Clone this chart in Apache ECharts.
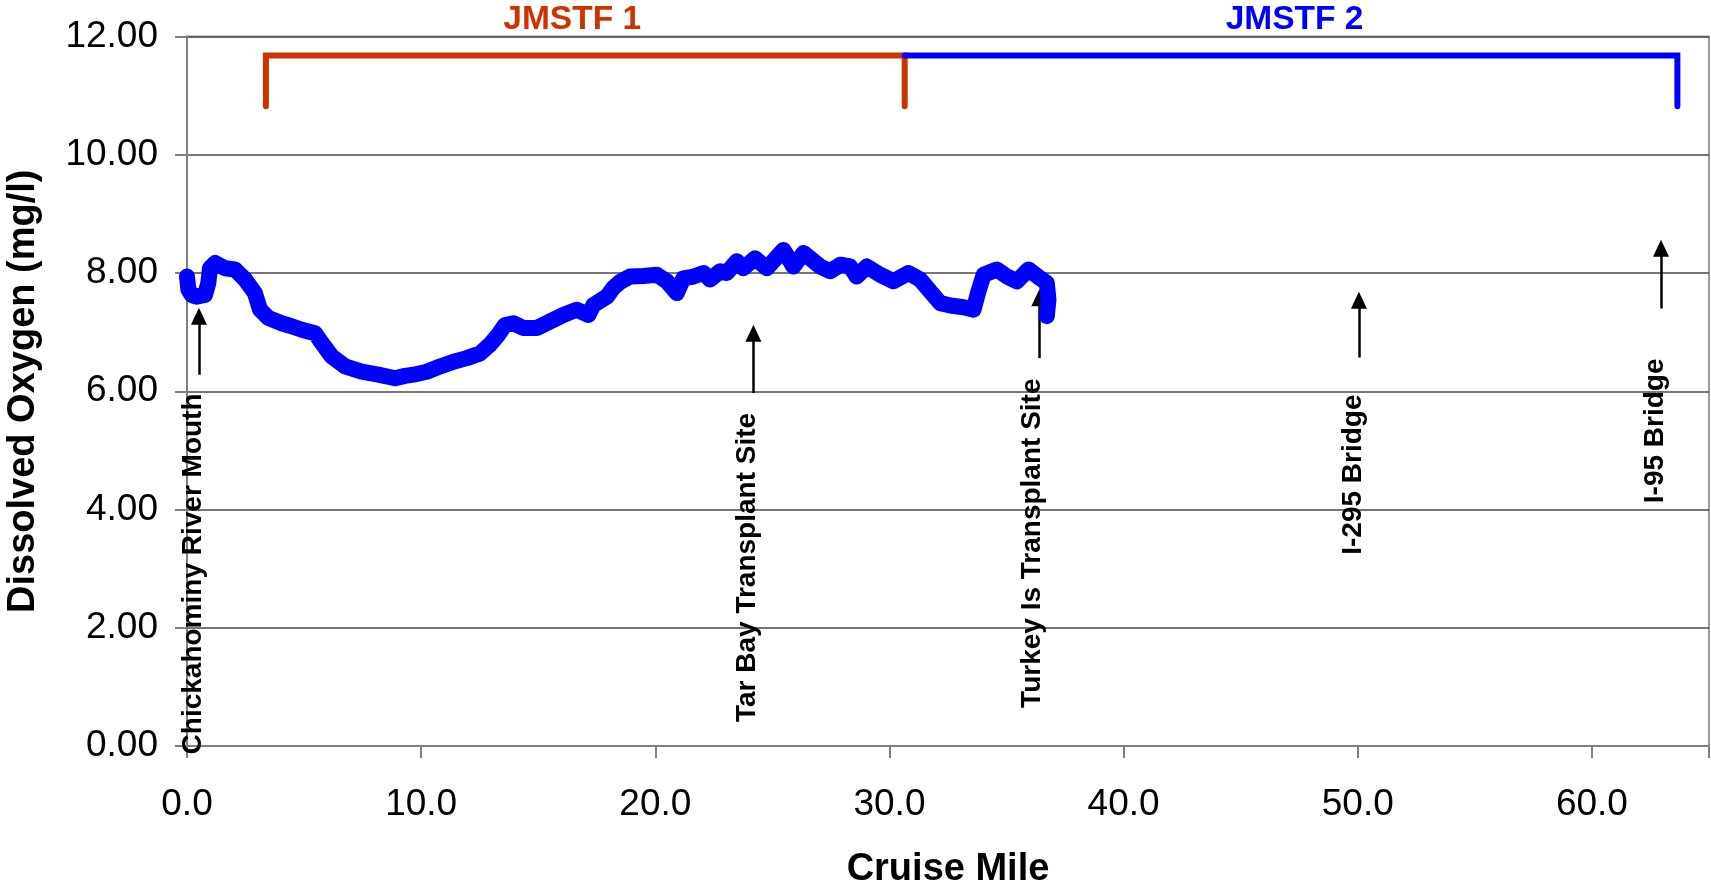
<!DOCTYPE html>
<html>
<head>
<meta charset="utf-8">
<script src="https://cdn.jsdelivr.net/npm/echarts@6/dist/echarts.min.js"></script>
<style>
html,body{margin:0;padding:0;background:#fff;}
#chart{width:1711px;height:891px;}
</style>
</head>
<body>
<div id="chart"></div>
<script>
// Cruise mile (x) and dissolved oxygen (mg/l)
const miles = [0.00,0.06,0.20,0.41,0.77,0.91,0.98,1.20,1.62,2.05,2.48,2.90,3.12,3.47,4.04,4.47,4.90,5.47,5.75,6.18,6.75,7.46,8.17,8.89,9.31,9.67,10.24,10.81,11.38,11.95,12.52,12.94,13.30,13.58,13.94,14.37,14.94,15.50,16.07,16.65,17.14,17.36,17.93,18.21,18.50,18.92,19.49,20.06,20.49,20.92,21.20,21.63,22.06,22.34,22.77,23.05,23.48,23.76,24.26,24.76,25.47,25.90,26.33,27.04,27.47,27.90,28.32,28.60,29.03,29.60,30.17,30.81,31.31,31.74,32.17,32.60,33.16,33.59,33.80,34.02,34.59,35.02,35.44,35.94,36.44,36.72,36.79,36.72];
const doValues = [7.94,7.72,7.63,7.60,7.63,7.83,8.08,8.17,8.08,8.06,7.89,7.66,7.38,7.24,7.15,7.10,7.04,6.98,6.82,6.59,6.42,6.33,6.28,6.22,6.26,6.28,6.33,6.42,6.50,6.56,6.64,6.79,6.96,7.12,7.15,7.07,7.07,7.18,7.29,7.38,7.29,7.46,7.60,7.75,7.85,7.94,7.95,7.97,7.86,7.66,7.91,7.94,8.00,7.89,8.03,8.00,8.20,8.08,8.25,8.08,8.39,8.11,8.34,8.11,8.03,8.14,8.11,7.94,8.11,7.97,7.86,8.00,7.89,7.69,7.49,7.45,7.42,7.38,7.69,7.97,8.06,7.94,7.86,8.06,7.91,7.83,7.55,7.27];

// Axis ticks
const xTicks = [0,10,20,30,40,50,60];
const yTicks = [0,2,4,6,8,10,12];

// Segment brackets
const jmstf1X = [3.37,3.37,30.65,30.65];
const jmstf1Y = [10.82,11.68,11.68,10.82];
const jmstf2X = [30.65,63.65,63.65];
const jmstf2Y = [11.68,11.68,10.82];
const segNames = ['JMSTF 1','JMSTF 2'];
const segLabelX = [16.45,47.3];

// Site annotations
const siteNames = ['Chickahominy River Mouth','Tar Bay Transplant Site','Turkey Is Transplant Site','I-295 Bridge','I-95 Bridge'];
const siteLabelX = [0.26,23.94,36.11,49.8,62.72];
const siteLabelY = [2.91,3.02,3.43,4.59,5.33];
const arrowX = [0.51,24.19,36.4,50.05,62.95];
const arrowBottom = [6.28,5.97,6.56,6.57,7.40];
const arrowTop = [7.27,6.98,7.58,7.54,8.42];

const FONT = "'Liberation Sans', Arial, sans-serif";
const chart = echarts.init(document.getElementById('chart'));

const zip = (xs, ys) => xs.map((x, i) => [x, ys[i]]);

chart.setOption({
  animation: false,
  backgroundColor: '#ffffff',
  grid: {
    left: 187, right: 2, top: 36.5, bottom: 145,
    containLabel: false, outerBoundsMode: 'none',
    show: true, borderColor: '#999999', borderWidth: 2, backgroundColor: 'transparent'
  },
  xAxis: {
    type: 'value', min: 0, max: 65, interval: 10,
    name: 'Cruise Mile', nameLocation: 'middle', nameGap: 105,
    nameTextStyle: { fontFamily: FONT, fontSize: 38, fontWeight: 'bold', color: '#000' },
    axisLine: { show: true, onZero: false, lineStyle: { color: '#808080', width: 2 } },
    axisTick: { show: true, inside: false, length: 12, lineStyle: { color: '#808080', width: 2 } },
    axisLabel: {
      margin: 40, fontFamily: FONT, fontSize: 37, color: '#000',
      formatter: v => (xTicks.indexOf(v) >= 0 ? v.toFixed(1) : '')
    },
    splitLine: { show: false }
  },
  yAxis: {
    type: 'value', min: 0, max: 12, interval: 2,
    name: 'Dissolved Oxygen (mg/l)', nameLocation: 'middle', nameRotate: 90, nameGap: 144,
    nameTextStyle: { fontFamily: FONT, fontSize: 38, fontWeight: 'bold', color: '#000' },
    axisLine: { show: true, lineStyle: { color: '#808080', width: 2 } },
    axisTick: { show: true, inside: false, length: 12, lineStyle: { color: '#808080', width: 2 } },
    axisLabel: {
      margin: 29, fontFamily: FONT, fontSize: 37, color: '#000',
      formatter: v => (yTicks.indexOf(v) >= 0 ? v.toFixed(2) : '')
    },
    splitLine: { show: true, lineStyle: { color: '#4a4a4a', width: 1.5 } }
  },
  series: [
    {
      name: 'DO', type: 'line', data: zip(miles, doValues),
      symbol: 'none', smooth: false, z: 5,
      lineStyle: { color: '#0000FF', width: 16, cap: 'round', join: 'round' }
    },
    {
      name: 'JMSTF 1 bracket', type: 'line', data: zip(jmstf1X, jmstf1Y),
      symbol: 'none', z: 4,
      lineStyle: { color: '#CC3300', width: 6, cap: 'round', join: 'miter' }
    },
    {
      name: 'JMSTF 2 bracket', type: 'line', data: zip(jmstf2X, jmstf2Y),
      symbol: 'none', z: 4,
      lineStyle: { color: '#0000FF', width: 6, cap: 'round', join: 'miter' }
    },
    {
      name: 'segment labels', type: 'scatter', symbolSize: 0, clip: false,
      itemStyle: { opacity: 1 },
      data: segNames.map((n, i) => ({
        name: n, value: [segLabelX[i], 12],
        label: { color: i === 0 ? '#CC3300' : '#0000FF' }
      })),
      label: {
        show: true, position: 'top', distance: 0, formatter: '{b}',
        fontFamily: FONT, fontSize: 33.5, fontWeight: 'bold', opacity: 1
      },
      silent: true
    },
    {
      name: 'site labels', type: 'scatter', symbolSize: 0, clip: false, z: 6,
      itemStyle: { opacity: 1 },
      data: siteNames.map((n, i) => ({ name: n, value: [siteLabelX[i], siteLabelY[i]] })),
      label: {
        show: true, position: 'inside', rotate: 90, formatter: '{b}',
        fontFamily: FONT, fontSize: 28, fontWeight: 'bold', color: '#000', opacity: 1
      },
      silent: true,
      markLine: {
        silent: true, animation: false,
        symbol: ['none', 'triangle'], symbolSize: [16, 17],
        label: { show: false },
        lineStyle: { color: '#000', width: 2.5, type: 'solid', opacity: 1 },
        itemStyle: { color: '#000', opacity: 1 },
        emphasis: { disabled: true },
        data: arrowX.map((x, i) => [
          { coord: [x, arrowBottom[i]] },
          { coord: [x, arrowTop[i]] }
        ])
      }
    }
  ]
});
</script>
</body>
</html>
